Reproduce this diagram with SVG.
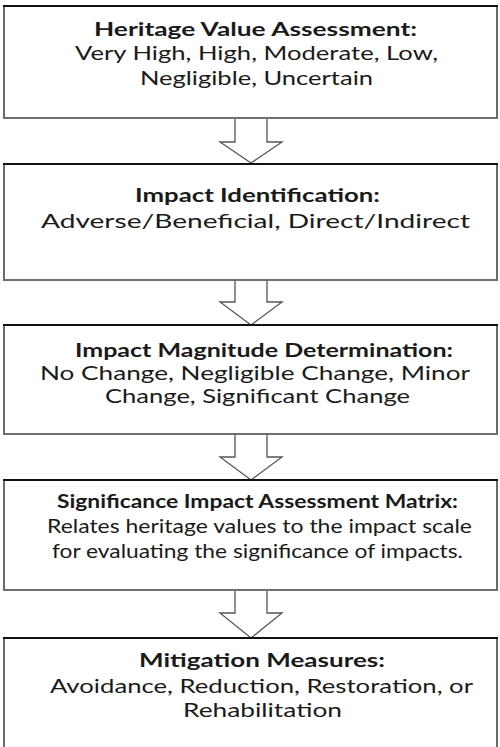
<svg xmlns="http://www.w3.org/2000/svg" width="500" height="747" viewBox="0 0 500 747">
  <style>
    .top { stroke: #111; stroke-width: 2; }
    .bot { stroke: #707070; stroke-width: 2; }
    .side { stroke: #3a3a3a; stroke-width: 1.5; }
    .arrow { fill: #fff; stroke: #555; stroke-width: 1.3; stroke-linejoin: miter; }
    text { font-family: Lato, "Liberation Sans", sans-serif; fill: #1a1a1a; text-anchor: middle; }
    .h { font-weight: bold; font-size: 18px; }
    .b { font-size: 19px; }
  </style>
  <rect width="500" height="747" fill="#fff"/>

  <!-- block arrows between the stages -->
  <g id="connectors">
    <path class="arrow" d="M235,119 V142 H220 L251,163 L282,142 H267 V119"/>
    <path class="arrow" d="M235,280 V302 H220 L251,325 L282,302 H267 V280"/>
    <path class="arrow" d="M235,434 V457 H220 L251,480 L282,457 H267 V434"/>
    <path class="arrow" d="M235,591 V613 H220 L251,638 L282,613 H267 V591"/>
  </g>

  <g id="heritage-value">
    <line class="side" x1="4" y1="6" x2="4" y2="118"/>
    <line class="side" x1="497" y1="6" x2="497" y2="118"/>
    <line class="top" x1="3" y1="6" x2="498" y2="6"/>
    <line class="bot" x1="3" y1="118" x2="498" y2="118"/>
    <text class="h" x="255.5" y="36" textLength="323" lengthAdjust="spacingAndGlyphs">Heritage Value Assessment:</text>
    <text class="b" x="256.5" y="60" textLength="363" lengthAdjust="spacingAndGlyphs">Very High, High, Moderate, Low,</text>
    <text class="b" x="256.5" y="85" textLength="233" lengthAdjust="spacingAndGlyphs">Negligible, Uncertain</text>
  </g>

  <g id="impact-identification">
    <line class="side" x1="4" y1="164" x2="4" y2="280"/>
    <line class="side" x1="497" y1="164" x2="497" y2="280"/>
    <line class="top" x1="3" y1="164" x2="498" y2="164"/>
    <line class="bot" x1="3" y1="280" x2="498" y2="280"/>
    <text class="h" x="257.5" y="202" textLength="245" lengthAdjust="spacingAndGlyphs">Impact Identification:</text>
    <text class="b" x="255.5" y="228" font-size="21" textLength="429" lengthAdjust="spacingAndGlyphs">Adverse/Beneficial, Direct/Indirect</text>
  </g>

  <g id="impact-magnitude">
    <line class="side" x1="4" y1="325" x2="4" y2="434"/>
    <line class="side" x1="497" y1="325" x2="497" y2="434"/>
    <line class="top" x1="3" y1="325" x2="498" y2="325"/>
    <line class="bot" x1="3" y1="434" x2="498" y2="434"/>
    <text class="h" x="264" y="357" textLength="378" lengthAdjust="spacingAndGlyphs">Impact Magnitude Determination:</text>
    <text class="b" x="255" y="380" textLength="430" lengthAdjust="spacingAndGlyphs">No Change, Negligible Change, Minor</text>
    <text class="b" x="257.5" y="403" textLength="305" lengthAdjust="spacingAndGlyphs">Change, Significant Change</text>
  </g>

  <g id="significance-matrix">
    <line class="side" x1="4" y1="480" x2="4" y2="590"/>
    <line class="side" x1="497" y1="480" x2="497" y2="590"/>
    <line class="top" x1="3" y1="480" x2="498" y2="480"/>
    <line class="bot" x1="3" y1="590" x2="498" y2="590"/>
    <text class="h" x="257.5" y="508" font-size="16" textLength="401" lengthAdjust="spacingAndGlyphs">Significance Impact Assessment Matrix:</text>
    <text class="b" x="259.5" y="533" font-size="16.5" textLength="425" lengthAdjust="spacingAndGlyphs">Relates heritage values to the impact scale</text>
    <text class="b" x="257.5" y="558" font-size="16.5" textLength="411" lengthAdjust="spacingAndGlyphs">for evaluating the significance of impacts.</text>
  </g>

  <g id="mitigation">
    <line class="side" x1="4" y1="638" x2="4" y2="747"/>
    <line class="side" x1="497" y1="638" x2="497" y2="747"/>
    <line class="top" x1="3" y1="638" x2="498" y2="638"/>
    <text class="h" x="262" y="667" textLength="246" lengthAdjust="spacingAndGlyphs">Mitigation Measures:</text>
    <text class="b" x="261.5" y="693" textLength="423" lengthAdjust="spacingAndGlyphs">Avoidance, Reduction, Restoration, or</text>
    <text class="b" x="262.5" y="717" textLength="159" lengthAdjust="spacingAndGlyphs">Rehabilitation</text>
  </g>
</svg>
